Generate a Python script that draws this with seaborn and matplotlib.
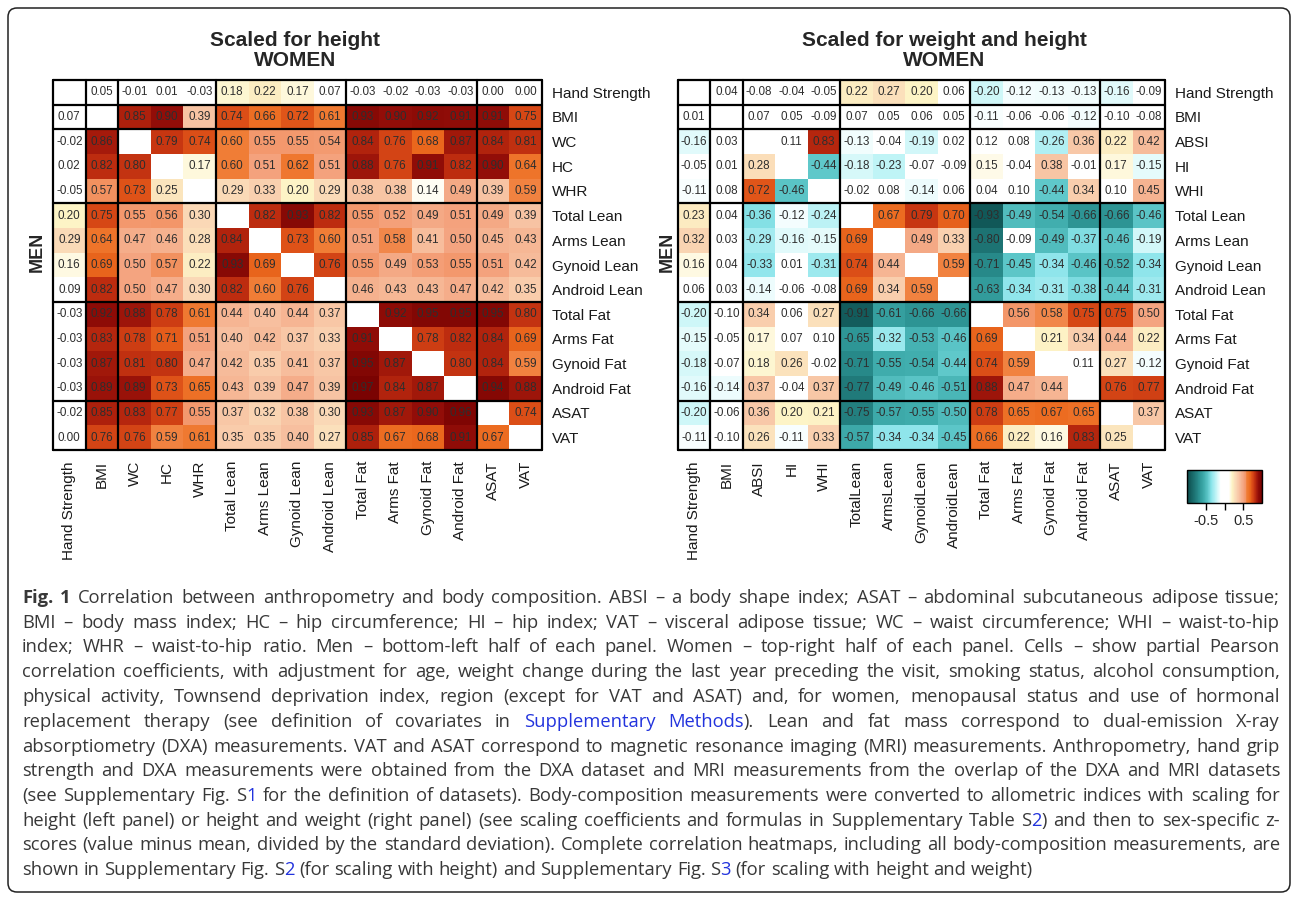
import numpy as np
import pandas as pd
import matplotlib
matplotlib.use("Agg")
import matplotlib.pyplot as plt
import seaborn as sns
from matplotlib.colors import LinearSegmentedColormap
from matplotlib.patches import FancyBboxPatch

# ---------------- data ----------------
height_labels = ["Hand Strength", "BMI", "WC", "HC", "WHR", "Total Lean", "Arms Lean",
                 "Gynoid Lean", "Android Lean", "Total Fat", "Arms Fat", "Gynoid Fat",
                 "Android Fat", "ASAT", "VAT"]
weight_labels = ["Hand Strength", "BMI", "ABSI", "HI", "WHI", "Total Lean", "Arms Lean",
                 "Gynoid Lean", "Android Lean", "Total Fat", "Arms Fat", "Gynoid Fat",
                 "Android Fat", "ASAT", "VAT"]
weight_xlabels = ["Hand Strength", "BMI", "ABSI", "HI", "WHI", "TotalLean", "ArmsLean",
                  "GynoidLean", "AndroidLean", "Total Fat", "Arms Fat", "Gynoid Fat",
                  "Android Fat", "ASAT", "VAT"]

N = None
# rows: upper triangle = women, lower triangle = men
height_corr = [
    [N, 0.05, -0.01, 0.01, -0.03, 0.18, 0.22, 0.17, 0.07, -0.03, -0.02, -0.03, -0.03, 0.00, 0.00],
    [0.07, N, 0.85, 0.90, 0.39, 0.74, 0.66, 0.72, 0.61, 0.93, 0.90, 0.92, 0.91, 0.91, 0.75],
    [-0.02, 0.86, N, 0.79, 0.74, 0.60, 0.55, 0.55, 0.54, 0.84, 0.76, 0.68, 0.87, 0.84, 0.81],
    [0.02, 0.82, 0.80, N, 0.17, 0.60, 0.51, 0.62, 0.51, 0.88, 0.76, 0.91, 0.82, 0.90, 0.64],
    [-0.05, 0.57, 0.73, 0.25, N, 0.29, 0.33, 0.20, 0.29, 0.38, 0.38, 0.14, 0.49, 0.39, 0.59],
    [0.20, 0.75, 0.55, 0.56, 0.30, N, 0.82, 0.93, 0.82, 0.55, 0.52, 0.49, 0.51, 0.49, 0.39],
    [0.29, 0.64, 0.47, 0.46, 0.28, 0.84, N, 0.73, 0.60, 0.51, 0.58, 0.41, 0.50, 0.45, 0.43],
    [0.16, 0.69, 0.50, 0.57, 0.22, 0.93, 0.69, N, 0.76, 0.55, 0.49, 0.53, 0.55, 0.51, 0.42],
    [0.09, 0.82, 0.50, 0.47, 0.30, 0.82, 0.60, 0.76, N, 0.46, 0.43, 0.43, 0.47, 0.42, 0.35],
    [-0.03, 0.92, 0.88, 0.78, 0.61, 0.44, 0.40, 0.44, 0.37, N, 0.92, 0.95, 0.95, 0.95, 0.80],
    [-0.03, 0.83, 0.78, 0.71, 0.51, 0.40, 0.42, 0.37, 0.33, 0.91, N, 0.78, 0.82, 0.84, 0.69],
    [-0.03, 0.87, 0.81, 0.80, 0.47, 0.42, 0.35, 0.41, 0.37, 0.95, 0.87, N, 0.80, 0.84, 0.59],
    [-0.03, 0.89, 0.89, 0.73, 0.65, 0.43, 0.39, 0.47, 0.39, 0.97, 0.84, 0.87, N, 0.94, 0.88],
    [-0.02, 0.85, 0.83, 0.77, 0.55, 0.37, 0.32, 0.38, 0.30, 0.93, 0.87, 0.90, 0.96, N, 0.74],
    [0.00, 0.76, 0.76, 0.59, 0.61, 0.35, 0.35, 0.40, 0.27, 0.85, 0.67, 0.68, 0.91, 0.67, N],
]

weight_corr = [
    [N, 0.04, -0.08, -0.04, -0.05, 0.22, 0.27, 0.20, 0.06, -0.20, -0.12, -0.13, -0.13, -0.16, -0.09],
    [0.01, N, 0.07, 0.05, -0.09, 0.07, 0.05, 0.06, 0.05, -0.11, -0.06, -0.06, -0.12, -0.10, -0.08],
    [-0.16, 0.03, N, 0.11, 0.83, -0.13, -0.04, -0.19, 0.02, 0.12, 0.08, -0.26, 0.36, 0.22, 0.42],
    [-0.05, 0.01, 0.28, N, -0.44, -0.18, -0.23, -0.07, -0.09, 0.15, -0.04, 0.38, -0.01, 0.17, -0.15],
    [-0.11, 0.08, 0.72, -0.46, N, -0.02, 0.08, -0.14, 0.06, 0.04, 0.10, -0.44, 0.34, 0.10, 0.45],
    [0.23, 0.04, -0.36, -0.12, -0.24, N, 0.67, 0.79, 0.70, -0.93, -0.49, -0.54, -0.66, -0.66, -0.46],
    [0.32, 0.03, -0.29, -0.16, -0.15, 0.69, N, 0.49, 0.33, -0.80, -0.09, -0.49, -0.37, -0.46, -0.19],
    [0.16, 0.04, -0.33, 0.01, -0.31, 0.74, 0.44, N, 0.59, -0.71, -0.45, -0.34, -0.46, -0.52, -0.34],
    [0.06, 0.03, -0.14, -0.06, -0.08, 0.69, 0.34, 0.59, N, -0.63, -0.34, -0.31, -0.38, -0.44, -0.31],
    [-0.20, -0.10, 0.34, 0.06, 0.27, -0.91, -0.61, -0.66, -0.66, N, 0.56, 0.58, 0.75, 0.75, 0.50],
    [-0.15, -0.05, 0.17, 0.07, 0.10, -0.65, -0.32, -0.53, -0.46, 0.69, N, 0.21, 0.34, 0.44, 0.22],
    [-0.18, -0.07, 0.18, 0.26, -0.02, -0.71, -0.55, -0.54, -0.44, 0.74, 0.59, N, 0.11, 0.27, -0.12],
    [-0.16, -0.14, 0.37, -0.04, 0.37, -0.77, -0.49, -0.46, -0.51, 0.88, 0.47, 0.44, N, 0.76, 0.77],
    [-0.20, -0.06, 0.36, 0.20, 0.21, -0.75, -0.57, -0.55, -0.50, 0.78, 0.65, 0.67, 0.65, N, 0.37],
    [-0.11, -0.10, 0.26, -0.11, 0.33, -0.57, -0.34, -0.34, -0.45, 0.66, 0.22, 0.16, 0.83, 0.25, N],
]

block_edges = [0, 1, 2, 5, 9, 13, 15]
cbar_ticks = [-0.5, 0, 0.5]
cbar_ticklabels = ["-0.5", "", "0.5"]

panel_titles = ["Scaled for height\nWOMEN", "Scaled for weight and height\nWOMEN"]

caption_lines = [
    [("Fig. 1", "b"), (" Correlation between anthropometry and body composition. ABSI – a body shape index; ASAT – abdominal subcutaneous adipose tissue;", "n")],
    [("BMI – body mass index; HC – hip circumference; HI – hip index; VAT – visceral adipose tissue; WC – waist circumference; WHI – waist-to-hip", "n")],
    [("index; WHR – waist-to-hip ratio. Men – bottom-left half of each panel. Women – top-right half of each panel. Cells – show partial Pearson", "n")],
    [("correlation coefficients, with adjustment for age, weight change during the last year preceding the visit, smoking status, alcohol consumption,", "n")],
    [("physical activity, Townsend deprivation index, region (except for VAT and ASAT) and, for women, menopausal status and use of hormonal", "n")],
    [("replacement therapy (see definition of covariates in ", "n"), ("Supplementary Methods", "l"), ("). Lean and fat mass correspond to dual-emission X-ray", "n")],
    [("absorptiometry (DXA) measurements. VAT and ASAT correspond to magnetic resonance imaging (MRI) measurements. Anthropometry, hand grip", "n")],
    [("strength and DXA measurements were obtained from the DXA dataset and MRI measurements from the overlap of the DXA and MRI datasets", "n")],
    [("(see Supplementary Fig. S", "n"), ("1", "l"), (" for the definition of datasets). Body-composition measurements were converted to allometric indices with scaling for", "n")],
    [("height (left panel) or height and weight (right panel) (see scaling coefficients and formulas in Supplementary Table S", "n"), ("2", "l"), (") and then to sex-specific z-", "n")],
    [("scores (value minus mean, divided by the standard deviation). Complete correlation heatmaps, including all body-composition measurements, are", "n")],
    [("shown in Supplementary Fig. S", "n"), ("2", "l"), (" (for scaling with height) and Supplementary Fig. S", "n"), ("3", "l"), (" (for scaling with height and weight)", "n")],
]

# ---------------- style ----------------
sns.set_theme(style="white")
plt.rcParams["font.family"] = ["Liberation Sans", "DejaVu Sans"]
plt.rcParams["axes.unicode_minus"] = False

nodes = [(-1.00, "#0b4b4b"), (-0.90, "#145f5f"), (-0.78, "#1f7878"), (-0.66, "#2d9595"),
         (-0.55, "#40adad"), (-0.45, "#5cc6c8"), (-0.35, "#8be4ea"), (-0.22, "#c4f5f7"),
         (-0.10, "#ffffff"), (0.12, "#ffffff"), (0.20, "#fdf4c6"), (0.30, "#fad8b6"),
         (0.40, "#f7c0a0"), (0.50, "#f4a682"), (0.56, "#f3966a"), (0.60, "#f07d36"),
         (0.68, "#ec6a1e"), (0.75, "#d94a16"), (0.82, "#bd2c0f"), (0.90, "#940e08"),
         (1.00, "#720000")]
cmap = LinearSegmentedColormap.from_list("corr", [((v + 1) / 2, c) for v, c in nodes])

W, H = 1295, 900
fig = plt.figure(figsize=(W / 100, H / 100), dpi=100)
fig.patch.set_facecolor("white")


def fax(x0, y0, x1, y1):
    return fig.add_axes([x0 / W, 1 - y1 / H, (x1 - x0) / W, (y1 - y0) / H])


axL = fax(53, 80, 542, 450)
axR = fax(678, 80, 1165, 450)
cax = fax(1187, 470, 1262, 503)

panels = [
    (axL, height_corr, height_labels, height_labels, 295, 37),
    (axR, weight_corr, weight_xlabels, weight_labels, 944, 667),
]

for i, (ax, vals, xl, yl, tx, mx) in enumerate(panels):
    df = pd.DataFrame(np.array(vals, dtype=float), index=yl, columns=xl)
    sns.heatmap(df, ax=ax, cmap=cmap, vmin=-1, vmax=1, annot=True, fmt=".2f",
                annot_kws=dict(size=8.4, color="#2e2e2e"), cbar=(i == 1),
                cbar_ax=cax if i == 1 else None,
                cbar_kws=dict(orientation="horizontal", ticks=cbar_ticks) if i == 1 else {},
                xticklabels=xl, yticklabels=yl, linewidths=0)
    ax.yaxis.tick_right()
    ax.tick_params(axis="y", rotation=0, length=0, pad=7, labelsize=11, labelcolor="#1a1a1a")
    ax.tick_params(axis="x", rotation=90, length=0, pad=8, labelsize=11, labelcolor="#1a1a1a")
    for e in block_edges:
        ax.axhline(e, color="black", lw=1.6, clip_on=False)
        ax.axvline(e, color="black", lw=1.6, clip_on=False)
    t1, t2 = panel_titles[i].split("\n")
    fig.text(tx / W, 1 - 40 / H, t1, ha="center", va="center", fontsize=15, fontweight="bold",
             family=["Liberation Sans Narrow", "Liberation Sans"])
    fig.text(tx / W, 1 - 61 / H, t2, ha="center", va="center", fontsize=15, fontweight="bold",
             family=["Liberation Sans Narrow", "Liberation Sans"])
    fig.text(mx / W, 1 - 252 / H, "MEN", rotation=90, ha="center", va="center",
             fontsize=13, fontweight="bold")

cb = axR.collections[0].colorbar
cb.set_ticks(cbar_ticks)
cb.set_ticklabels(cbar_ticklabels)
cb.outline.set_edgecolor("black")
cb.outline.set_linewidth(1.0)
cax.tick_params(axis="x", length=5, width=1, color="black", labelsize=10.5, pad=3, bottom=True)

# ---------------- caption (justified) ----------------
renderer = fig.canvas.get_renderer()
cap_font = ["Open Sans", "DejaVu Sans"]
styles = {
    "n": dict(color="#383838", fontweight="normal"),
    "b": dict(color="#383838", fontweight="bold"),
    "l": dict(color="#2233dd", fontweight="normal"),
}


def measure(s, st, size):
    t = fig.text(0, 0, s, fontsize=size, family=cap_font, **styles[st])
    w = t.get_window_extent(renderer).width
    t.remove()
    return w


def split_words(line):
    words, cur = [], []
    for s, st in line:
        parts = s.split(" ")
        for k, p in enumerate(parts):
            if k > 0 and cur:
                words.append(cur)
                cur = []
            if p:
                cur.append((p, st))
    if cur:
        words.append(cur)
    return words


x_left, x_right = 22, 1280
line_words = [split_words(l) for l in caption_lines]

# choose the font size so that the longest line fills the text width naturally
s0 = 10.0
sp0 = measure("a a", "n", s0) - measure("aa", "n", s0)
nat = []
for words in line_words[:-1]:
    tot = sum(measure(p, st, s0) for w in words for p, st in w)
    nat.append(tot + sp0 * (len(words) - 1))
cap_size = s0 * (x_right - x_left) * 0.995 / max(nat)

space_w = measure("a a", "n", cap_size) - measure("aa", "n", cap_size)
y0, dy = 603, 24.75
for li, words in enumerate(line_words):
    widths = [[measure(p, st, cap_size) for p, st in w] for w in words]
    total = sum(sum(w) for w in widths)
    last = li == len(line_words) - 1
    gap = space_w if last else (x_right - x_left - total) / (len(words) - 1)
    x = x_left
    y = 1 - round(y0 + li * dy) / H
    for w, ws in zip(words, widths):
        for (p, st), pw in zip(w, ws):
            fig.text(x / W, y, p, fontsize=cap_size, family=cap_font, ha="left",
                     va="baseline", **styles[st])
            x += pw
        x += gap

# ---------------- border ----------------
border = FancyBboxPatch((8, 8), 1282, 884, boxstyle="round,pad=0,rounding_size=9",
                        transform=None, fill=False, edgecolor="#222222", linewidth=1.1)
fig.add_artist(border)

fig.savefig("out.png", dpi=100, facecolor="white")
